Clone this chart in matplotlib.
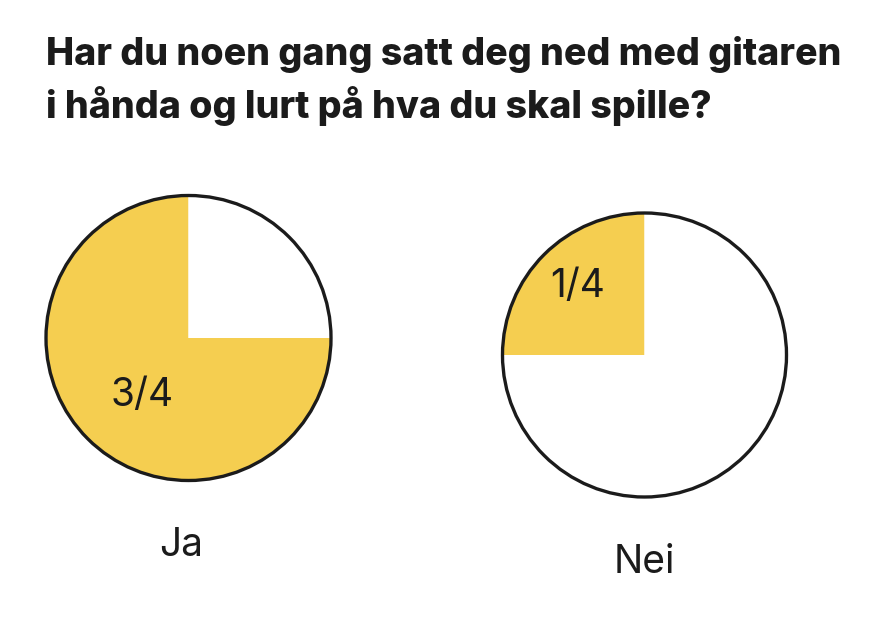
import matplotlib
matplotlib.use("Agg")
import matplotlib.pyplot as plt
from matplotlib.patches import Circle

title_lines = ["Har du noen gang satt deg ned med gitaren",
               "i hånda og lurt på hva du skal spille?"]
categories = ["Ja", "Nei"]
shares = [[3, 1], [1, 3]]          # yellow part, white part (quarters)
fraction_labels = ["3/4", "1/4"]

YELLOW = "#F5CE50"
INK = "#1b1b1b"
W, H = 896, 634

fig = plt.figure(figsize=(W / 100, H / 100), dpi=100)
fig.patch.set_facecolor("white")

# pie geometry in pixels: (center x, center y from top, radius)
geom = [(188.5, 338.0, 142.5), (644.5, 355.0, 142.0)]
label_pos = [(-0.326, -0.407), (-0.468, 0.482)]
cat_pos = [(181, 556), (644.5, 573)]
PAD = 1.03

for i, (cat, vals) in enumerate(zip(categories, shares)):
    cx, cy, r = geom[i]
    R = r * PAD
    ax = fig.add_axes([(cx - R) / W, (H - cy - R) / H, 2 * R / W, 2 * R / H])
    ax.pie(vals, colors=[YELLOW, "white"], startangle=90, counterclock=True,
           wedgeprops=dict(linewidth=0))
    ax.add_patch(Circle((0, 0), 1.0, fill=False, lw=2.4, ec=INK))
    ax.set_xlim(-PAD, PAD)
    ax.set_ylim(-PAD, PAD)
    ax.set_aspect("equal")
    ax.axis("off")
    lx, ly = label_pos[i]
    ax.text(lx, ly, fraction_labels[i], ha="center", va="center",
            fontsize=28, family="Inter", color=INK)
    fig.text(cat_pos[i][0] / W, 1 - cat_pos[i][1] / H, cat, ha="center",
             va="baseline", fontsize=28, family="Inter", color=INK)

fig.text(46 / W, 1 - 65 / H, title_lines[0], ha="left", va="baseline",
         fontsize=27, family="Inter", weight=800, color=INK)
fig.text(46 / W, 1 - 118 / H, title_lines[1], ha="left", va="baseline",
         fontsize=27, family="Inter", weight=800, color=INK)

fig.savefig("out.png", dpi=100, facecolor="white")
